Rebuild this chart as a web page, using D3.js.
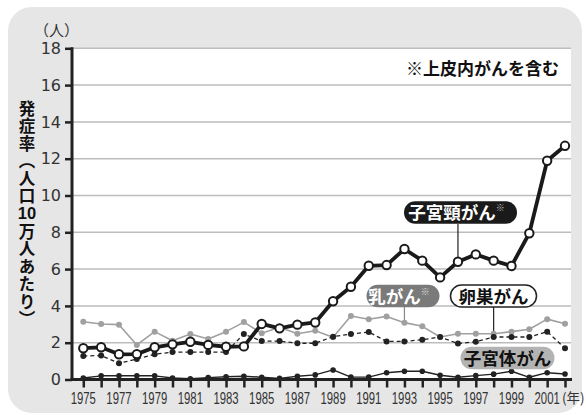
<!doctype html>
<html>
  <head>
    <meta charset="utf-8">
    <script src="https://cdnjs.cloudflare.com/ajax/libs/d3/7.8.5/d3.min.js"></script>
    <style>
      body { margin: 0; background: #fff; }
      .jp { font-family: "Noto Sans CJK JP", sans-serif; font-weight: bold; }
    </style>
  </head>
  <body>
    <svg width="586" height="415"></svg>

    <script>
        // 発症率（人口10万人あたり）
        var years = [1975, 1976, 1977, 1978, 1979, 1980, 1981, 1982, 1983, 1984, 1985, 1986, 1987, 1988,
                     1989, 1990, 1991, 1992, 1993, 1994, 1995, 1996, 1997, 1998, 1999, 2000, 2001, 2002];
        var cervical = [1.70, 1.75, 1.37, 1.38, 1.75, 1.91, 2.05, 1.88, 1.78, 1.80, 3.02, 2.78, 2.98, 3.10,
                        4.25, 5.04, 6.18, 6.22, 7.09, 6.46, 5.55, 6.40, 6.80, 6.46, 6.17, 7.95, 11.89, 12.70];
        var breast = [3.14, 3.02, 2.98, 1.88, 2.60, 2.11, 2.47, 2.20, 2.60, 3.12, 2.51, 2.84, 2.49, 2.65,
                      2.30, 3.45, 3.27, 3.43, 3.09, 2.89, 2.31, 2.49, 2.49, 2.49, 2.60, 2.73, 3.28, 3.03];
        var ovarian = [1.28, 1.30, 0.88, 1.11, 1.37, 1.49, 1.49, 1.49, 1.49, 2.47, 2.09, 2.09, 1.97, 1.97,
                       2.33, 2.47, 2.58, 2.07, 2.07, 2.16, 2.31, 1.95, 2.05, 2.31, 2.31, 2.31, 2.60, 1.70];
        var uterine = [0.08, 0.20, 0.20, 0.20, 0.20, 0.08, 0.04, 0.10, 0.15, 0.18, 0.12, 0.06, 0.18, 0.25,
                       0.52, 0.13, 0.13, 0.37, 0.45, 0.45, 0.23, 0.12, 0.21, 0.29, 0.45, 0.12, 0.37, 0.30];
        var yTicks = [0, 2, 4, 6, 8, 10, 12, 14, 16, 18];
        var xLabelYears = [1975, 1977, 1979, 1981, 1983, 1985, 1987, 1989, 1991, 1993, 1995, 1997, 1999, 2001];

        var svg = d3.select("svg");

        var x = d3.scaleLinear().domain([1975, 2002]).range([83.3, 565]);
        var y = d3.scaleLinear().domain([0, 18]).range([379.5, 48.3]);

        // gray panel + white plot area
        svg.append("rect").attr("x", 8).attr("y", 7).attr("width", 574).attr("height", 406)
            .attr("rx", 24).attr("fill", "#e6e6e6");
        svg.append("rect").attr("x", 72).attr("y", y(18)).attr("width", 499).attr("height", y(0) - y(18))
            .attr("fill", "#fff");

        // gridlines
        svg.append("g").selectAll("line").data(yTicks.filter(d => d > 0)).enter().append("line")
            .attr("x1", 72).attr("x2", 571)
            .attr("y1", d => y(d)).attr("y2", d => y(d))
            .attr("stroke", "#bdbdbd").attr("stroke-width", 1.5);

        // y axis
        var yAxis = svg.append("g").attr("transform", "translate(72,0)")
            .call(d3.axisLeft(y).tickValues(yTicks).tickSize(7).tickPadding(4));
        yAxis.select(".domain").attr("stroke", "#222").attr("stroke-width", 3).attr("d", "M0," + (y(18) - 1) + "V" + (y(0) + 1));
        yAxis.selectAll(".tick line").attr("stroke", "#222").attr("stroke-width", 2.5);
        yAxis.selectAll(".tick text").attr("font-family", "DejaVu Sans, sans-serif").attr("font-size", 16)
            .attr("fill", "#333");

        // x axis
        var xAxis = svg.append("g").attr("transform", "translate(0," + y(0) + ")")
            .call(d3.axisBottom(x).tickValues(years).tickSize(8).tickFormat(""));
        xAxis.select(".domain").attr("stroke", "#222").attr("stroke-width", 3).attr("d", "M70.5,0H572");
        xAxis.selectAll(".tick line").attr("stroke", "#222").attr("stroke-width", 2.5);

        // condensed year labels
        svg.append("g").selectAll("text").data(xLabelYears).enter().append("text")
            .attr("transform", d => "translate(" + x(d) + ",404) scale(0.71,1)")
            .attr("text-anchor", "middle")
            .attr("font-family", "Liberation Sans, Arial, sans-serif")
            .attr("font-size", 16).attr("fill", "#333")
            .text(d => d);
        svg.append("text").attr("x", 562).attr("y", 403)
            .attr("font-family", "Noto Sans CJK JP, sans-serif").attr("font-size", 13.5).attr("fill", "#333")
            .text("(年)");

        // units and titles
        svg.append("text").attr("class", "jp").attr("x", 34).attr("y", 36)
            .attr("font-size", 15).style("font-weight", "normal").attr("fill", "#333").text("（人）");

        svg.append("text").attr("class", "jp").attr("x", 27).attr("y", 100)
            .attr("writing-mode", "vertical-rl").attr("letter-spacing", 1)
            .attr("font-size", 16.5).attr("fill", "#111").text("発症率（人口");
        svg.append("text").attr("x", 27).attr("y", 219)
            .attr("text-anchor", "middle").attr("font-family", "Liberation Sans, Arial, sans-serif")
            .attr("font-weight", "bold").attr("font-size", 16.5).attr("fill", "#111").text("10");
        svg.append("text").attr("class", "jp").attr("x", 27).attr("y", 223)
            .attr("writing-mode", "vertical-rl").attr("letter-spacing", 1)
            .attr("font-size", 16.5).attr("fill", "#111").text("万人あたり）");

        svg.append("text").attr("class", "jp").attr("x", 559).attr("y", 75)
            .attr("text-anchor", "end").attr("font-size", 17).attr("fill", "#111")
            .text("※上皮内がんを含む");

        // label pointers
        function pointer(yr, series, top, color) {
            var i = years.indexOf(yr);
            svg.append("line").attr("x1", x(yr)).attr("x2", x(yr))
                .attr("y1", top).attr("y2", y(series[i]))
                .attr("stroke", color).attr("stroke-width", 1.2);
        }
        pointer(1996, cervical, 224, "#222");
        pointer(1993, breast, 307, "#888");
        pointer(1998, ovarian, 307, "#222");

        // series
        function drawSeries(values, opt) {
            var pts = years.map((yr, i) => [yr, values[i]]);
            svg.append("path").datum(pts)
                .attr("fill", "none").attr("stroke", opt.stroke).attr("stroke-width", opt.width)
                .attr("stroke-dasharray", opt.dash || null)
                .attr("stroke-linejoin", "round")
                .attr("d", d3.line().x(d => x(d[0])).y(d => y(d[1])));
            svg.append("g").selectAll("circle").data(pts).enter().append("circle")
                .attr("cx", d => x(d[0])).attr("cy", d => y(d[1]))
                .attr("r", opt.r).attr("fill", opt.fill)
                .attr("stroke", opt.dotStroke || "none").attr("stroke-width", opt.dotWidth || 0);
        }
        drawSeries(breast, {stroke: "#a0a0a0", width: 1.6, r: 3, fill: "#a0a0a0"});
        drawSeries(uterine, {stroke: "#222", width: 1.4, r: 2.8, fill: "#222"});
        drawSeries(ovarian, {stroke: "#222", width: 1.3, dash: "4,3", r: 3, fill: "#222"});
        drawSeries(cervical, {stroke: "#1a1a1a", width: 3.8, r: 4.2, fill: "#fff", dotStroke: "#1a1a1a", dotWidth: 2});

        // pill labels
        function pill(cx, cy, w, h, fill, stroke, txt, color, mark, markColor) {
            var g = svg.append("g");
            g.append("rect").attr("x", cx - w / 2).attr("y", cy - h / 2).attr("width", w).attr("height", h)
                .attr("rx", h / 2).attr("fill", fill).attr("stroke", stroke || "none").attr("stroke-width", 1.5);
            var t = g.append("text").attr("class", "jp").attr("x", cx - (mark ? 4 : 0)).attr("y", cy + 6.5)
                .attr("text-anchor", "middle").attr("font-size", 17.5).attr("fill", color).text(txt);
            if (mark) {
                t.append("tspan").attr("font-size", 9).attr("dy", -8).attr("fill", markColor).text(mark);
            }
        }
        pill(460.5, 212.5, 113, 22.5, "#1a1a1a", null, "子宮頸がん", "#fff", "※", "#bbb");
        pill(403, 296, 73, 22.5, "#7a7a7a", null, "乳がん", "#fff", "※", "#ddd");
        pill(493.5, 296, 86, 22, "#fff", "#222", "卵巣がん", "#111");
        pill(507.5, 358, 94, 22.5, "#b3b3b3", null, "子宮体がん", "#111");
    </script>
  </body>
</html>
